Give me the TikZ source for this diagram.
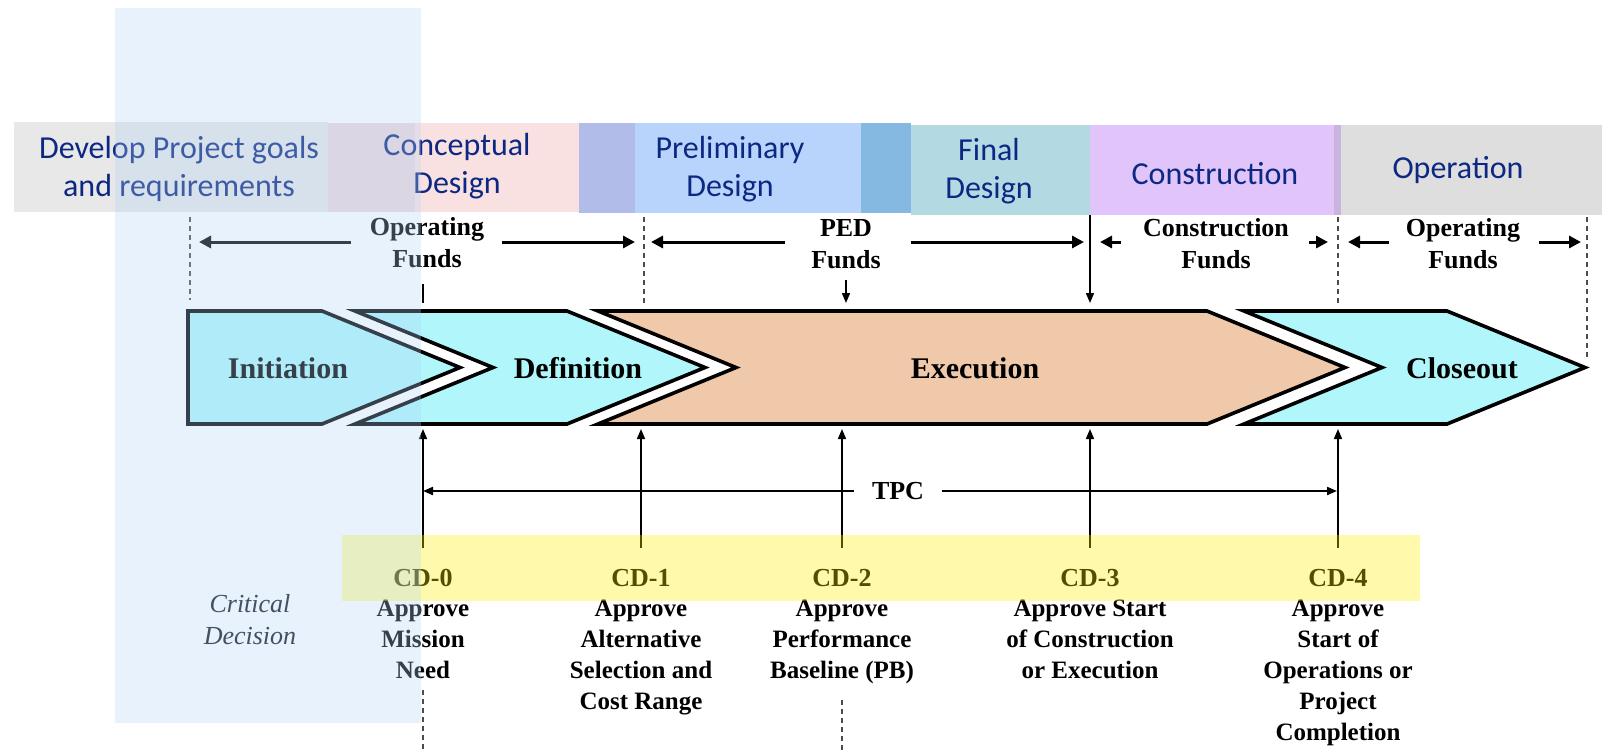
\documentclass[tikz,border=0pt]{standalone}
\usepackage{fontspec}
\setmainfont{Liberation Serif}
\newfontfamily\bandfont{Carlito}
\usetikzlibrary{arrows.meta}

\definecolor{navy}{RGB}{12,40,130}
\definecolor{bandgray}{RGB}{232,232,232}
\definecolor{bandmauve}{RGB}{236,215,218}
\definecolor{bandpink}{RGB}{250,225,225}
\definecolor{bandviolet}{RGB}{178,188,232}
\definecolor{bandblue}{RGB}{184,212,252}
\definecolor{banddeep}{RGB}{133,185,225}
\definecolor{bandteal}{RGB}{179,218,227}
\definecolor{bandlilac}{RGB}{224,196,250}
\definecolor{bandplum}{RGB}{200,180,222}
\definecolor{bandgraytwo}{RGB}{222,222,222}
\definecolor{phasecyan}{RGB}{176,246,250}
\definecolor{phasepeach}{RGB}{240,200,170}
\definecolor{veil}{RGB}{178,212,248}
\definecolor{critgray}{RGB}{20,22,34}

\begin{document}
\begin{tikzpicture}[x=0.5pt,y=-0.5pt,
  bandlabel/.style={font=\bandfont\fontsize{16}{19}\selectfont, text=navy, align=center, inner sep=0},
  fundlabel/.style={font=\bfseries\fontsize{13}{16}\selectfont, align=center, inner sep=0},
  fundarrow/.style={-{Triangle[length=6pt,width=6pt]}, line width=1.5pt},
  phase/.style={draw=black, line width=1.8pt, line join=miter},
  phaselabel/.style={font=\bfseries\fontsize{15}{18}\selectfont, inner sep=0},
  guide/.style={dash pattern=on 2.5pt off 2pt, line width=0.6pt, draw=black!70},
  cdarrow/.style={-{Triangle[length=5pt,width=4pt]}, line width=0.8pt},
  tpcarrow/.style={-{Triangle[length=5pt,width=4pt]}, line width=1pt},
  cdlabel/.style={font=\bfseries\fontsize{13}{15.5}\selectfont, inner sep=0},
  cdtext/.style={font=\bfseries\fontsize{12.5}{15.5}\selectfont, align=center, inner sep=0, anchor=north},
]
% canvas
\fill[white] (0,0) rectangle (1602,751);
\path[use as bounding box] (0,0) rectangle (1602,751);

% design stage band
\fill[bandgray]    (14,122)   rectangle (328,212);
\fill[bandmauve]   (328,123)  rectangle (415,212);
\fill[bandpink]    (415,123)  rectangle (579,212);
\fill[bandviolet]  (579,123)  rectangle (635,213);
\fill[bandblue]    (635,123)  rectangle (861,213);
\fill[banddeep]    (861,123)  rectangle (911,213);
\fill[bandteal]    (911,125)  rectangle (1090,215);
\fill[bandlilac]   (1090,125) rectangle (1334,215);
\fill[bandplum]    (1334,125) rectangle (1341,215);
\fill[bandgraytwo] (1341,125) rectangle (1602,215);

\node[bandlabel] (goals)   at (179,169) {Develop Project goals\\and requirements};
\node[bandlabel] (concept) at (457,166) {Conceptual\\Design};
\node[bandlabel] (prelim)  at (730,169) {Preliminary\\Design};
\node[bandlabel] (final)   at (989,171) {Final\\Design};
\node[bandlabel] (constr)  at (1215,174) {Construction};
\node[bandlabel] (oper)    at (1458,170) {Operation};

% funding periods
\node[fundlabel] (opl) at (427,243) {Operating\\Funds};
\node[fundlabel] (ped) at (846,244) {PED\\Funds};
\node[fundlabel] (cf)  at (1216,244) {Construction\\Funds};
\node[fundlabel] (opr) at (1463,244) {Operating\\Funds};

\coordinate (opl-a) at (351,242);  \coordinate (opl-l) at (199,242);
\coordinate (opl-b) at (502,242);  \coordinate (opl-r) at (635,242);
\coordinate (ped-a) at (785,242);  \coordinate (ped-l) at (651,242);
\coordinate (ped-b) at (911,242);  \coordinate (ped-r) at (1084,242);
\coordinate (cf-a)  at (1121,242); \coordinate (cf-l)  at (1100,242);
\coordinate (cf-b)  at (1309,242); \coordinate (cf-r)  at (1328,242);
\coordinate (opr-a) at (1389,242); \coordinate (opr-l) at (1348,242);
\coordinate (opr-b) at (1539,242); \coordinate (opr-r) at (1581,242);
\foreach \p in {opl,ped,cf,opr}{
  \draw[fundarrow] (\p-a) -- (\p-l);
  \draw[fundarrow] (\p-b) -- (\p-r);
}

% boundaries between funding periods
\coordinate (g1t) at (190,217);  \coordinate (g1b) at (190,300);
\coordinate (g2t) at (644,217);  \coordinate (g2b) at (644,303);
\coordinate (g3t) at (1338,217); \coordinate (g3b) at (1338,303);
\coordinate (g4t) at (1587,217); \coordinate (g4b) at (1587,358);
\coordinate (g5t) at (423,690);  \coordinate (g5b) at (423,751);
\coordinate (g6t) at (842,700);  \coordinate (g6b) at (842,751);
\foreach \g in {1,...,6}{\draw[guide] (g\g t) -- (g\g b);}

% markers above the phases
\coordinate (tick-t) at (423,284); \coordinate (tick-b) at (423,303);
\draw[line width=1pt] (tick-t) -- (tick-b);
\coordinate (pedtop) at (846,280); \coordinate (pedin) at (846,303);
\draw[cdarrow] (pedtop) -- (pedin);
\coordinate (cd3-top) at (1090,215); \coordinate (cd3-in) at (1090,303);
\draw[cdarrow] (cd3-top) -- (cd3-in);

% project phases
\draw[phase, fill=phasecyan]
  (188,311) -- (322,311) -- (460,367.5) -- (322,424) -- (188,424) -- cycle;
\draw[phase, fill=phasecyan]
  (355,311) -- (567,311) -- (705,367.5) -- (567,424) -- (355,424) -- (493,367.5) -- cycle;
\draw[phase, fill=phasepeach]
  (598,311) -- (1207,311) -- (1345,367.5) -- (1207,424) -- (598,424) -- (736,367.5) -- cycle;
\draw[phase, fill=phasecyan]
  (1244,311) -- (1447,311) -- (1585,367.5) -- (1447,424) -- (1244,424) -- (1382,367.5) -- cycle;

\node[phaselabel] (ini) at (288,368) {Initiation};
\node[phaselabel] (def) at (578,368) {Definition};
\node[phaselabel] (exe) at (975,368) {Execution};
\node[phaselabel] (clo) at (1462,368) {Closeout};

% critical decision arrows
\foreach \n/\x in {0/423,1/641,2/842,3/1090,4/1338}{
  \coordinate (cd\n-foot) at (\x,548);
  \coordinate (cd\n-head) at (\x,429);
  \draw[cdarrow] (cd\n-foot) -- (cd\n-head);
}

% total project cost span
\node[fundlabel, fill=white, inner xsep=9pt, inner ysep=3pt] (tpc) at (898,491) {TPC};
\coordinate (tpc-l) at (423,491);
\coordinate (tpc-r) at (1337,491);
\draw[tpcarrow] (tpc.west) -- (tpc-l);
\draw[tpcarrow] (tpc.east) -- (tpc-r);

% critical decisions
\node[font=\itshape\fontsize{13}{16}\selectfont, align=center, inner sep=0, text=critgray]
  (crit) at (250,620) {Critical\\Decision};
\node[cdlabel] (cd0) at (423,578) {CD-0};
\node[cdlabel] (cd1) at (641,578) {CD-1};
\node[cdlabel] (cd2) at (842,578) {CD-2};
\node[cdlabel] (cd3) at (1090,578) {CD-3};
\node[cdlabel] (cd4) at (1338,578) {CD-4};
\node[cdtext] (cd0-t) at (423,600)  {Approve\\Mission\\Need};
\node[cdtext] (cd1-t) at (641,600)  {Approve\\Alternative\\Selection and\\Cost Range};
\node[cdtext] (cd2-t) at (842,600)  {Approve\\Performance\\Baseline (PB)};
\node[cdtext] (cd3-t) at (1090,600) {Approve Start\\of Construction\\or Execution};
\node[cdtext] (cd4-t) at (1338,600) {Approve\\Start of\\Operations or\\Project\\Completion};

% highlight strips
\fill[yellow, fill opacity=0.33] (342,535) rectangle (1420,601);
\fill[veil, fill opacity=0.3] (115,8) rectangle (421,723);
\end{tikzpicture}
\end{document}
